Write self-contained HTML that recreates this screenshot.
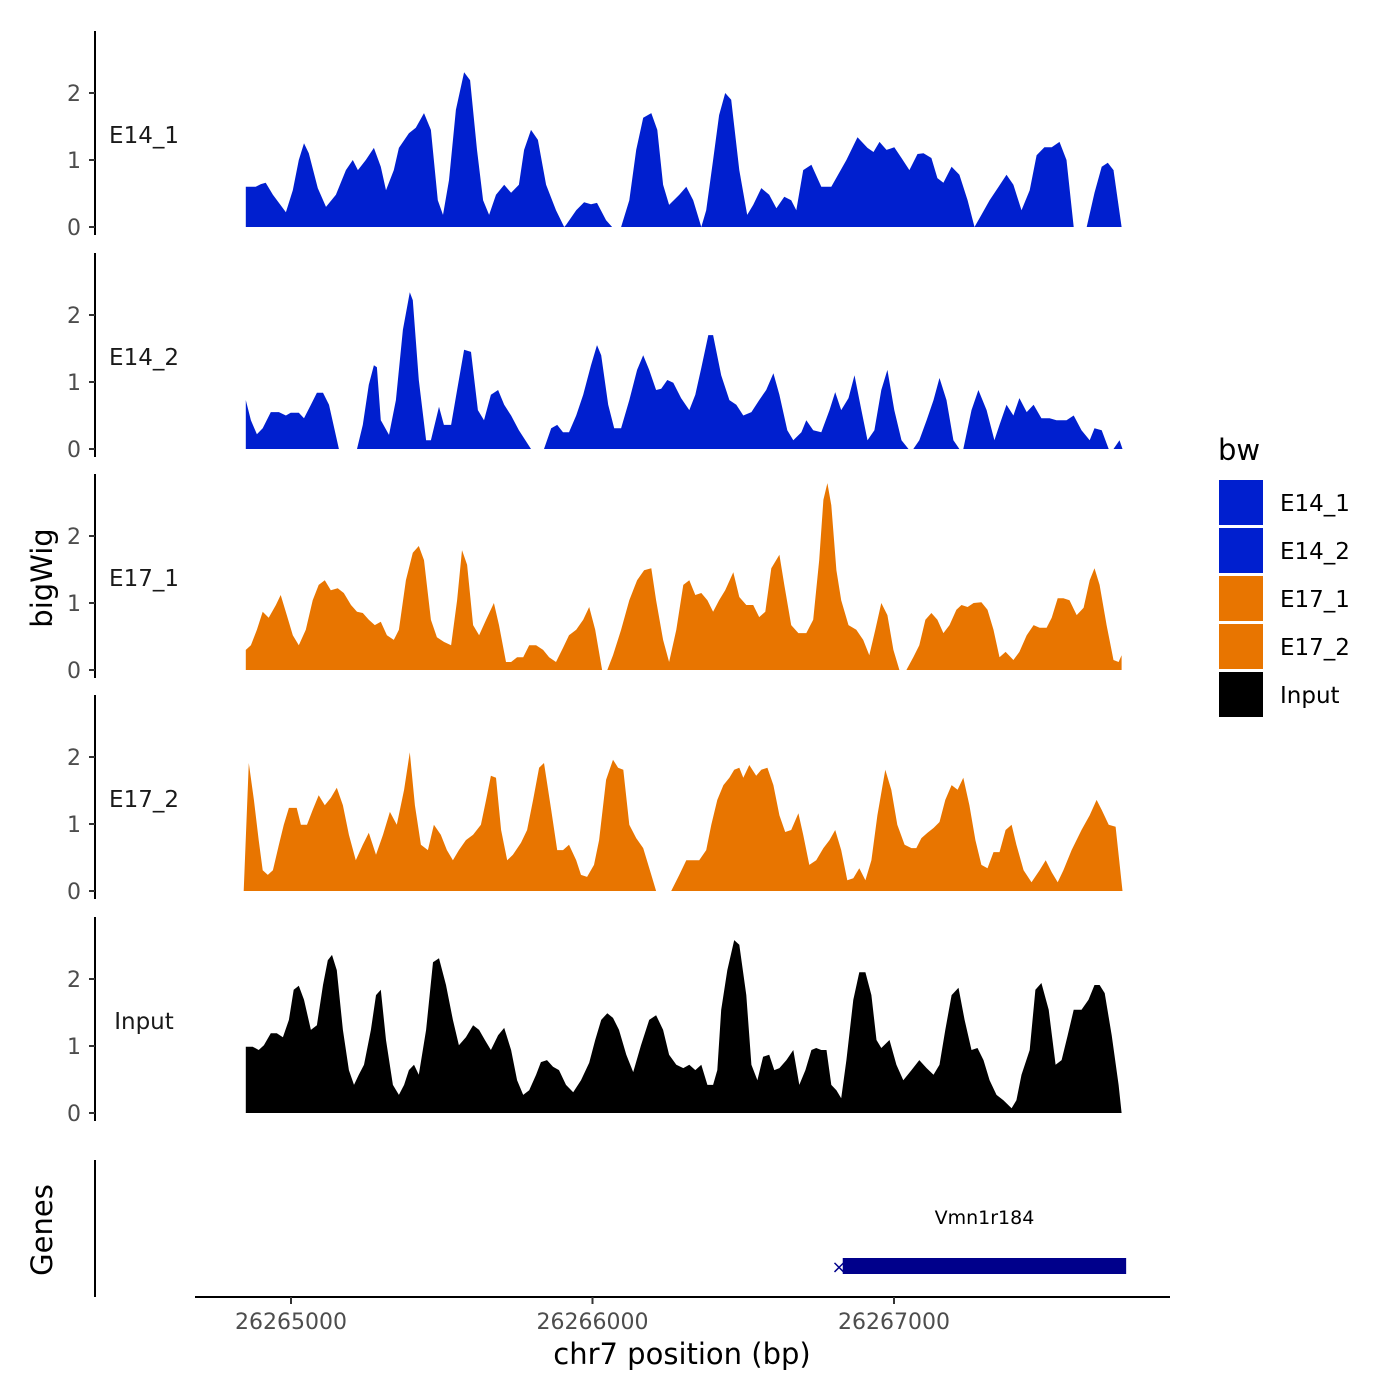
<!DOCTYPE html>
<html><head><meta charset="utf-8"><style>
html,body{margin:0;padding:0;background:#fff;}
svg{display:block;font-family:"DejaVu Sans","Liberation Sans",sans-serif;}
</style></head><body>
<svg id="chart" width="1400" height="1400" viewBox="0 0 1400 1400" xmlns="http://www.w3.org/2000/svg">
<rect width="1400" height="1400" fill="#fff"/>
<g id="tracks"></g>
<text x="52" y="578" transform="rotate(-90 52 578)" text-anchor="middle" font-size="29" fill="#000">bigWig</text>
<text x="52" y="1230" transform="rotate(-90 52 1230)" text-anchor="middle" font-size="29" fill="#000">Genes</text>
<line x1="95" y1="1160" x2="95" y2="1297" stroke="#000" stroke-width="2"/>
<line x1="195" y1="1297" x2="1170" y2="1297" stroke="#000" stroke-width="2"/>
<g id="xticks"></g>
<text x="682" y="1364" text-anchor="middle" font-size="29" fill="#000">chr7 position (bp)</text>
<g>
<text id="geneLabel" x="984" y="1224" text-anchor="middle" font-size="19" fill="#000">Vmn1r184</text>
<rect id="geneBar" x="842" y="1258" width="285" height="16" fill="#00008b"/>
<text x="839" y="1273" text-anchor="middle" font-size="18" fill="#00008b">×</text>
</g>
<g>
<text x="1218" y="460" font-size="29" fill="#000">bw</text>
<rect x="1219" y="480" width="44" height="45" fill="#001fcf"/>
<text x="1280" y="511" font-size="23">E14_1</text>
<rect x="1219" y="528" width="44" height="45" fill="#001fcf"/>
<text x="1280" y="559" font-size="23">E14_2</text>
<rect x="1219" y="576" width="44" height="45" fill="#e87500"/>
<text x="1280" y="607" font-size="23">E17_1</text>
<rect x="1219" y="624" width="44" height="45" fill="#e87500"/>
<text x="1280" y="655" font-size="23">E17_2</text>
<rect x="1219" y="672" width="44" height="45" fill="#000"/>
<text x="1280" y="703" font-size="23">Input</text>
</g>
</svg>
<script>
const START = 26264850;
const xTicks = [26265000, 26266000, 26267000];
const yTicks = [0, 1, 2];
const trackNames = ["E14_1", "E14_2", "E17_1", "E17_2", "Input"];
const trackColors = ["#001fcf", "#001fcf", "#e87500", "#e87500", "#000000"];
const geneStart = 26266830;
const geneEnd = 26267770;

const e14_1Pos = [0,33,50,66,90,133,156,176,193,209,239,266,299,332,355,372,398,425,448,465,491,508,541,564,591,614,637,654,674,697,724,744,767,787,807,830,857,880,906,923,946,969,996,1029,1056,1062,1096,1122,1145,1165,1195,1215,null,1245,1272,1295,1318,1345,1365,1384,1404,1438,1461,1484,1511,1527,1550,1570,1590,1610,1637,1663,1683,1710,1736,1760,1786,1809,1826,1849,1876,1909,1942,1992,2029,2062,2082,2102,2125,2151,2175,2201,2228,2248,2274,2294,2314,2341,2367,2394,2417,2440,2467,2497,2523,2546,2573,2600,2623,2649,2673,2699,2722,2746,null,2789,2815,2839,2859,2878,2905];
const e14_1Val = [0.6,0.6,0.64,0.66,0.48,0.22,0.55,1.0,1.25,1.1,0.58,0.3,0.48,0.85,1.0,0.85,1.0,1.18,0.9,0.55,0.85,1.18,1.4,1.48,1.7,1.45,0.4,0.18,0.7,1.75,2.31,2.19,1.15,0.4,0.18,0.48,0.63,0.51,0.63,1.15,1.45,1.3,0.63,0.25,0,0.03,0.25,0.37,0.34,0.36,0.1,0,null,0,0.4,1.15,1.63,1.7,1.45,0.63,0.33,0.48,0.6,0.4,0,0.25,1.0,1.67,2.0,1.9,0.85,0.18,0.33,0.58,0.48,0.28,0.45,0.4,0.25,0.85,0.93,0.6,0.6,1.0,1.34,1.18,1.12,1.27,1.15,1.19,1.03,0.85,1.09,1.1,1.03,0.73,0.66,0.9,0.78,0.4,0,0.18,0.4,0.6,0.78,0.63,0.25,0.55,1.07,1.19,1.19,1.27,1.0,0,null,0,0.51,0.9,0.96,0.85,0];

const e14_2Pos = [0,17,37,56,83,110,133,149,176,193,216,236,256,276,309,null,369,388,408,425,435,448,475,498,521,544,554,574,598,614,641,657,681,701,724,747,770,790,813,837,857,880,906,946,null,989,1013,1033,1052,1072,1096,1119,1145,1165,1179,1202,1222,1245,1272,1298,1318,1338,1361,1378,1398,1418,1444,1471,1491,1511,1534,1550,1577,1604,1627,1650,1677,1703,1726,1750,1770,1796,1816,1843,1859,1882,1909,1936,1955,1975,1999,2019,2042,2062,2085,2108,2128,2151,2175,2198,null,2214,2234,2258,2281,2301,2324,2347,2367,null,2380,2407,2430,2457,2483,2500,2523,2546,2566,2590,2613,2639,2666,2689,2722,2746,2772,2799,2815,2839,2862,null,2878,2898,2908];
const e14_2Val = [0.73,0.43,0.22,0.31,0.55,0.55,0.5,0.54,0.54,0.46,0.66,0.84,0.84,0.66,0,null,0,0.36,0.96,1.25,1.22,0.43,0.21,0.73,1.78,2.34,2.22,1.03,0.13,0.13,0.63,0.36,0.36,0.88,1.48,1.45,0.58,0.43,0.81,0.88,0.66,0.5,0.28,0,null,0,0.31,0.36,0.25,0.25,0.5,0.81,1.25,1.55,1.4,0.66,0.31,0.31,0.73,1.18,1.4,1.18,0.88,0.9,1.03,0.99,0.76,0.58,0.81,1.21,1.7,1.7,1.1,0.73,0.66,0.5,0.55,0.73,0.88,1.13,0.81,0.28,0.13,0.25,0.43,0.28,0.25,0.58,0.85,0.58,0.76,1.1,0.58,0.13,0.28,0.88,1.18,0.58,0.13,0,null,0,0.13,0.43,0.73,1.06,0.73,0.13,0,null,0,0.58,0.88,0.58,0.13,0.36,0.66,0.5,0.76,0.55,0.66,0.46,0.46,0.43,0.43,0.5,0.28,0.13,0.31,0.28,0,null,0,0.13,0];

const e17_1Pos = [0,17,37,56,76,100,116,136,156,176,199,222,242,262,282,305,325,349,369,388,408,428,448,468,491,508,531,554,574,591,614,634,657,681,701,717,734,754,774,797,823,840,863,880,900,920,940,963,986,1006,1029,1052,1072,1096,1119,1139,1159,1182,null,1199,1218,1245,1272,1298,1321,1345,1361,1384,1404,1428,1451,1471,1491,1511,1531,1550,1570,1590,1617,1637,1660,1683,1703,1723,1743,1770,1786,1809,1833,1859,1882,1902,1916,1929,1942,1959,1975,1999,2025,2048,2068,2088,2108,2128,2148,2168,null,2191,2214,2234,2254,2274,2294,2314,2334,2357,2374,2394,2414,2440,2460,2480,2500,2520,2546,2566,2590,2613,2633,2656,2673,2693,2712,2732,2756,2779,2799,2815,2832,2855,2878,2895,2905];
const e17_1Val = [0.3,0.37,0.6,0.87,0.78,0.97,1.12,0.82,0.52,0.37,0.6,1.04,1.27,1.34,1.19,1.22,1.15,0.97,0.87,0.85,0.75,0.67,0.72,0.52,0.45,0.6,1.34,1.75,1.85,1.64,0.75,0.49,0.42,0.37,1.04,1.79,1.57,0.67,0.52,0.75,1.0,0.67,0.12,0.12,0.19,0.19,0.37,0.37,0.3,0.19,0.12,0.33,0.52,0.6,0.75,0.94,0.6,0,null,0,0.22,0.6,1.04,1.34,1.49,1.52,1.04,0.45,0.12,0.6,1.27,1.34,1.12,1.15,1.04,0.87,1.04,1.19,1.46,1.09,0.97,0.97,0.79,0.87,1.52,1.72,1.27,0.67,0.55,0.55,0.75,1.64,2.54,2.79,2.46,1.49,1.04,0.67,0.6,0.45,0.22,0.6,1.0,0.82,0.3,0,null,0,0.19,0.37,0.75,0.85,0.75,0.55,0.67,0.9,0.97,0.94,1.0,1.01,0.9,0.6,0.19,0.27,0.15,0.27,0.52,0.67,0.63,0.63,0.78,1.07,1.07,1.04,0.82,0.93,1.34,1.52,1.27,0.67,0.15,0.12,0.22];

const e17_2Pos = [-7,10,27,43,56,73,90,110,126,143,169,183,203,222,242,262,282,302,322,342,365,388,408,432,455,478,501,525,544,561,581,604,624,647,667,687,707,730,754,780,797,813,830,847,867,886,913,933,953,973,989,1013,1033,1052,1072,1096,1112,1132,1155,1172,1195,1218,1235,1252,1272,1295,1318,1345,1361,null,1411,1438,1461,1504,1527,1544,1564,1584,1604,1620,1637,1650,1670,1693,1710,1730,1750,1770,1789,1809,1833,1849,1869,1892,1916,1936,1955,1975,1995,2015,2035,2055,2075,2095,2121,2141,2161,2185,2208,2224,2241,2261,2281,2301,2320,2341,2361,2380,2400,2420,2440,2460,2480,2500,2520,2540,2556,2580,2606,2633,2653,2673,2693,2712,2739,2772,2799,2822,2839,2862,2885,2908];
const e17_2Val = [0,1.91,1.36,0.76,0.31,0.24,0.31,0.69,0.99,1.24,1.24,0.99,0.99,1.21,1.43,1.28,1.39,1.54,1.28,0.84,0.46,0.69,0.87,0.54,0.84,1.18,0.99,1.51,2.07,1.28,0.69,0.61,0.99,0.84,0.61,0.46,0.61,0.76,0.84,0.99,1.36,1.72,1.69,0.91,0.46,0.54,0.72,0.91,1.36,1.84,1.91,1.21,0.61,0.61,0.69,0.46,0.24,0.21,0.39,0.76,1.66,1.96,1.84,1.81,0.99,0.79,0.64,0.24,0,null,0,0.24,0.46,0.46,0.61,0.99,1.36,1.58,1.69,1.81,1.84,1.69,1.88,1.72,1.81,1.84,1.58,1.13,0.88,0.91,1.16,0.84,0.39,0.46,0.64,0.76,0.91,0.61,0.16,0.19,0.34,0.16,0.46,1.13,1.81,1.51,0.99,0.69,0.64,0.64,0.79,0.87,0.94,1.03,1.36,1.58,1.51,1.69,1.28,0.76,0.39,0.34,0.58,0.58,0.91,0.99,0.69,0.31,0.13,0.31,0.46,0.28,0.13,0.31,0.61,0.91,1.13,1.36,1.21,0.99,0.96,0];

const inputPos = [0,23,43,60,83,103,123,143,159,176,193,216,236,256,272,286,302,322,342,359,375,392,415,432,448,465,488,508,525,541,558,574,598,621,641,664,687,707,730,754,774,793,813,837,857,880,900,920,940,963,979,999,1019,1039,1062,1086,1112,1139,1159,1179,1199,1218,1238,1262,1285,1311,1338,1361,1384,1404,1428,1451,1471,1491,1511,1531,1550,1564,1577,1597,1620,1637,1660,1677,1697,1716,1736,1753,1770,1793,1816,1836,1856,1876,1892,1909,1926,1942,1959,1975,1992,2015,2035,2055,2075,2092,2108,2135,2158,2181,2208,2234,2258,2281,2301,2320,2341,2364,2384,2407,2427,2447,2467,2490,2513,2540,2556,2573,2600,2619,2639,2663,2686,2706,2726,2746,2772,2795,2815,2832,2849,2872,2895,2905];
const inputVal = [0.99,0.99,0.94,1.01,1.19,1.19,1.13,1.39,1.84,1.9,1.69,1.24,1.31,1.91,2.28,2.36,2.13,1.24,0.64,0.42,0.57,0.72,1.24,1.76,1.84,1.09,0.42,0.27,0.42,0.64,0.72,0.57,1.24,2.25,2.31,1.91,1.39,1.01,1.13,1.31,1.24,1.09,0.94,1.16,1.27,0.94,0.49,0.27,0.34,0.57,0.76,0.79,0.69,0.64,0.42,0.31,0.49,0.75,1.09,1.39,1.49,1.42,1.24,0.87,0.61,1.01,1.39,1.46,1.24,0.87,0.72,0.67,0.72,0.64,0.72,0.42,0.42,0.64,1.54,2.13,2.58,2.51,1.76,0.72,0.49,0.84,0.87,0.64,0.67,0.79,0.94,0.42,0.64,0.94,0.97,0.94,0.94,0.42,0.34,0.22,0.79,1.69,2.1,2.1,1.76,1.09,0.97,1.09,0.72,0.49,0.64,0.79,0.67,0.57,0.72,1.24,1.76,1.87,1.39,0.94,0.97,0.79,0.49,0.27,0.19,0.07,0.19,0.57,0.94,1.84,1.94,1.54,0.72,0.79,1.16,1.54,1.54,1.69,1.91,1.91,1.79,1.16,0.42,0];

const allPos = [e14_1Pos, e14_2Pos, e17_1Pos, e17_2Pos, inputPos];
const allVal = [e14_1Val, e14_2Val, e17_1Val, e17_2Val, inputVal];

const NS = "http://www.w3.org/2000/svg";
const xScale = bp => 291 + (bp - 26265000) * 0.3015;
const baselines = [227, 449, 670, 891, 1113];
const PX_PER_UNIT = 67;
const tracks = document.getElementById('tracks');

function mk(tag, attrs) {
  const e = document.createElementNS(NS, tag);
  for (const k in attrs) e.setAttribute(k, attrs[k]);
  return e;
}

trackNames.forEach((name, i) => {
  const base = baselines[i];
  const yScale = v => base - v * PX_PER_UNIT;
  const g = mk('g', {});
  
  
  tracks.appendChild(g);
  const ax = mk('line', {x1: 95, y1: base - 196, x2: 95, y2: base + 8, stroke: '#000', 'stroke-width': 2});
  
  
  g.appendChild(ax);
  yTicks.forEach(t => {
    const tk = mk('line', {x1: 89, y1: yScale(t), x2: 95, y2: yScale(t), stroke: '#333', 'stroke-width': 2});
    
    
    g.appendChild(tk);
    const tl = mk('text', {x: 81, y: yScale(t) + 8, 'text-anchor': 'end', 'font-size': 22, fill: '#4d4d4d'});
    tl.textContent = t;
    
    
    g.appendChild(tl);
  });
  const lab = mk('text', {x: 144, y: base - 84, 'text-anchor': 'middle', 'font-size': 23, fill: '#1a1a1a'});
  lab.textContent = name;
  
  
  g.appendChild(lab);
  const pos = allPos[i], val = allVal[i];
  let run = [];
  const flush = () => {
    if (run.length > 1) {
      let d = 'M' + xScale(START + run[0][0]).toFixed(1) + ',' + base;
      run.forEach(p => { d += 'L' + xScale(START + p[0]).toFixed(1) + ',' + yScale(p[1]).toFixed(1); });
      d += 'L' + xScale(START + run[run.length - 1][0]).toFixed(1) + ',' + base + 'Z';
      const a = mk('path', {d: d, fill: trackColors[i]});
      
      
      g.appendChild(a);
    }
    run = [];
  };
  for (let k = 0; k < val.length; k++) {
    if (val[k] === null || pos[k] === null) { flush(); continue; }
    run.push([pos[k], val[k]]);
  }
  flush();
});

const xg = document.getElementById('xticks');
xTicks.forEach(t => {
  const x = xScale(t);
  const tk = mk('line', {x1: x, y1: 1297, x2: x, y2: 1304, stroke: '#333', 'stroke-width': 2});
  
  
  xg.appendChild(tk);
  const tl = mk('text', {x: x, y: 1329, 'text-anchor': 'middle', 'font-size': 22, fill: '#4d4d4d'});
  tl.textContent = t;
  
  
  xg.appendChild(tl);
});
const gb = document.getElementById('geneBar');
gb.setAttribute('x', xScale(geneStart));
gb.setAttribute('width', xScale(geneEnd) - xScale(geneStart));
document.getElementById('geneLabel').setAttribute('x', (xScale(geneStart) + xScale(geneEnd)) / 2);
</script>
</body></html>
